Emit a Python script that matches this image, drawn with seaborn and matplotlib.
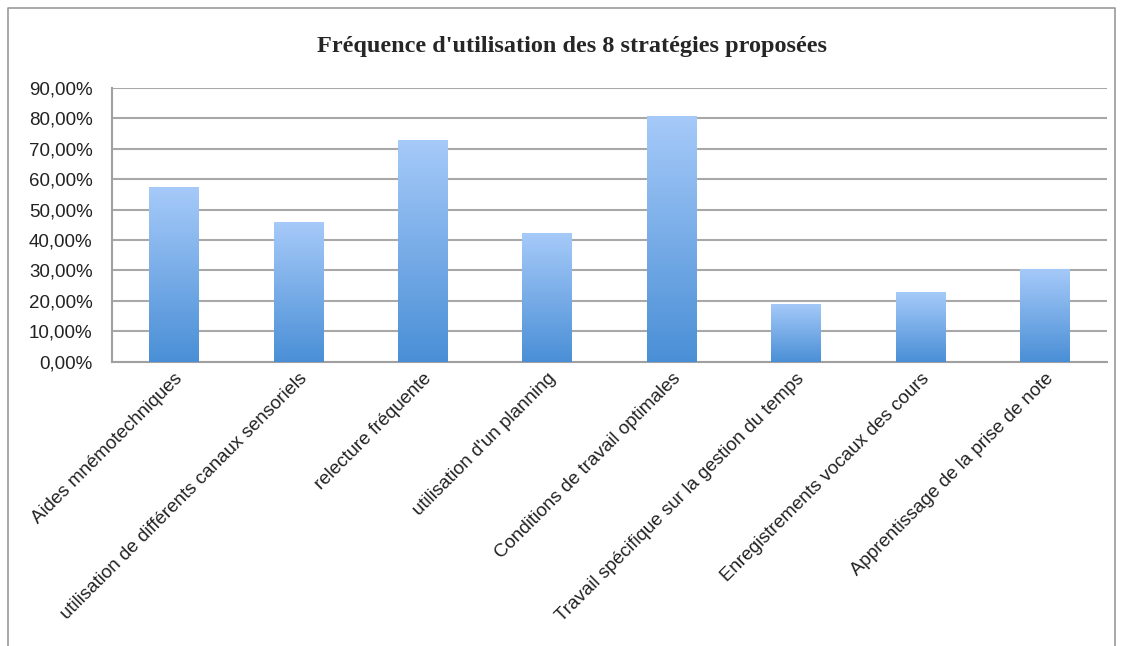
import numpy as np
import pandas as pd
import matplotlib
matplotlib.use("Agg")
import matplotlib.pyplot as plt
from matplotlib.ticker import FuncFormatter
from matplotlib.colors import LinearSegmentedColormap
import seaborn as sns

# Data
strategies = [
    "Aides mnémotechniques",
    "utilisation de différents canaux sensoriels",
    "relecture fréquente",
    "utilisation d'un planning",
    "Conditions de travail optimales",
    "Travail spécifique sur la gestion du temps",
    "Enregistrements vocaux des cours",
    "Apprentissage de la prise de note",
]
frequency = [57.5, 46.0, 72.9, 42.2, 80.6, 19.1, 22.9, 30.6]
title = "Fréquence d'utilisation des 8 stratégies proposées"

df = pd.DataFrame({"strategie": strategies, "frequence": frequency})

sns.set_style("white")
plt.rcParams["font.family"] = ["Liberation Sans", "DejaVu Sans"]

fig = plt.figure(figsize=(11.22, 6.46), dpi=100)
ax = fig.add_axes([0.0998, 0.440, 0.8868, 0.424])

sns.barplot(data=df, x="strategie", y="frequence", color="#6fa3e6",
            width=0.4, ax=ax, zorder=3)

# gradient fill inside each bar
cmap = LinearSegmentedColormap.from_list("bar", ["#4a8fd6", "#a6caf9"])
grad = np.linspace(0, 1, 256).reshape(-1, 1)
for p in ax.patches:
    x0, y0 = p.get_x(), p.get_y()
    w, h = p.get_width(), p.get_height()
    p.set_facecolor("none")
    p.set_edgecolor("none")
    im = ax.imshow(grad, cmap=cmap, origin="lower", aspect="auto",
                   extent=[x0, x0 + w, y0, y0 + h], zorder=3)
    im.set_clip_path(p)

ax.set_xlim(-0.5, len(strategies) - 0.5)
ax.set_ylim(0, 90)
ax.set_yticks(np.arange(0, 91, 10))
ax.yaxis.set_major_formatter(FuncFormatter(lambda v, _: f"{v:.2f}%".replace(".", ",")))
ax.yaxis.grid(True, color="#a8a8a8", linewidth=1.5, zorder=0)
ax.set_axisbelow(True)
ax.set_xlabel("")
ax.set_ylabel("")
ax.tick_params(axis="y", labelsize=13.5, length=0, pad=14, colors="#222222")
ax.tick_params(axis="x", labelsize=13.5, length=0, pad=6, colors="#222222")
plt.setp(ax.get_xticklabels(), rotation=45, ha="right", rotation_mode="anchor")

for side in ["top", "right"]:
    ax.spines[side].set_visible(False)
for side in ["left", "bottom"]:
    ax.spines[side].set_color("#a0a0a0")
    ax.spines[side].set_linewidth(1.5)

fig.text(0.51, 0.928, title, ha="center", va="center", fontsize=17.5,
         fontweight="bold", family=["Liberation Serif", "DejaVu Serif"])

# outer chart frame (left, top, right)
fx = [8 / 1122, 8 / 1122, 1115 / 1122, 1115 / 1122]
fy = [0.0, 1 - 8 / 646, 1 - 8 / 646, 0.0]
fig.add_artist(plt.Line2D(fx, fy, color="#9a9a9a", linewidth=1.2,
                          transform=fig.transFigure))

fig.savefig("out.png", dpi=100)
